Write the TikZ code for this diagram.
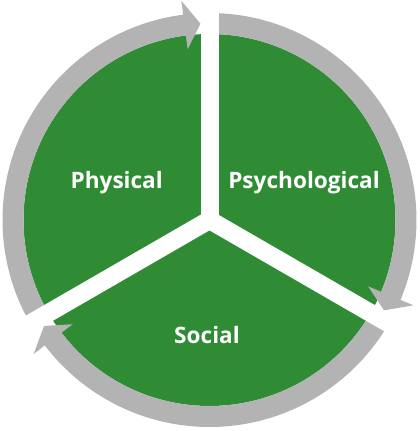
\documentclass[tikz,border=0pt]{standalone}
\usepackage{fontspec}
\newfontfamily\lblfont{Open Sans}
\definecolor{leafgreen}{HTML}{2F8C35}
\definecolor{ringgray}{HTML}{B3B3B3}
\begin{document}
\begin{tikzpicture}[x=1pt,y=1pt,
  ring/.style={draw=ringgray, line width=21pt},
  head/.style={fill=ringgray},
  gapband/.style={draw=white, line width=18pt},
  lbl/.style={text=white, font=\lblfont\bfseries\fontsize{22.6}{26}\selectfont, anchor=base, inner sep=0pt}]
\useasboundingbox (0,0) rectangle (420,431);
\coordinate (C) at (209.5,211);
% green disc
\fill[leafgreen] (C) circle (186);
% gray arcs (clockwise)
\draw[ring] ([shift={(210:196.5)}]C) arc (210:97.0:196.5);
\draw[ring] ([shift={(90:196.5)}]C) arc (90:-23.0:196.5);
\draw[ring] ([shift={(-30:196.5)}]C) arc (-30:-143.0:196.5);
% arrow heads
\fill[head] ([shift={(97.3:172)}]C) -- ([shift={(92.63:196.5)}]C) -- ([shift={(97.3:221)}]C) -- cycle;
\fill[head] ([shift={(-22.7:172)}]C) -- ([shift={(-27.37:196.5)}]C) -- ([shift={(-22.7:221)}]C) -- cycle;
\fill[head] ([shift={(-142.7:172)}]C) -- ([shift={(-147.37:196.5)}]C) -- ([shift={(-142.7:221)}]C) -- cycle;
% white gaps
\coordinate (g1) at ([shift={(90:260)}]C);
\coordinate (g2) at ([shift={(210:260)}]C);
\coordinate (g3) at ([shift={(330:260)}]C);
\draw[gapband] (C) -- (g1);
\draw[gapband] (C) -- (g2);
\draw[gapband] (C) -- (g3);
\fill[white] (C) circle (9);
% labels
\node[lbl] (phys) at (116.7,242.7) {Physical};
\node[lbl] (psych) at (304,242.7) {Psychological};
\node[lbl] (soc) at (207,87.7) {Social};
\end{tikzpicture}
\end{document}
